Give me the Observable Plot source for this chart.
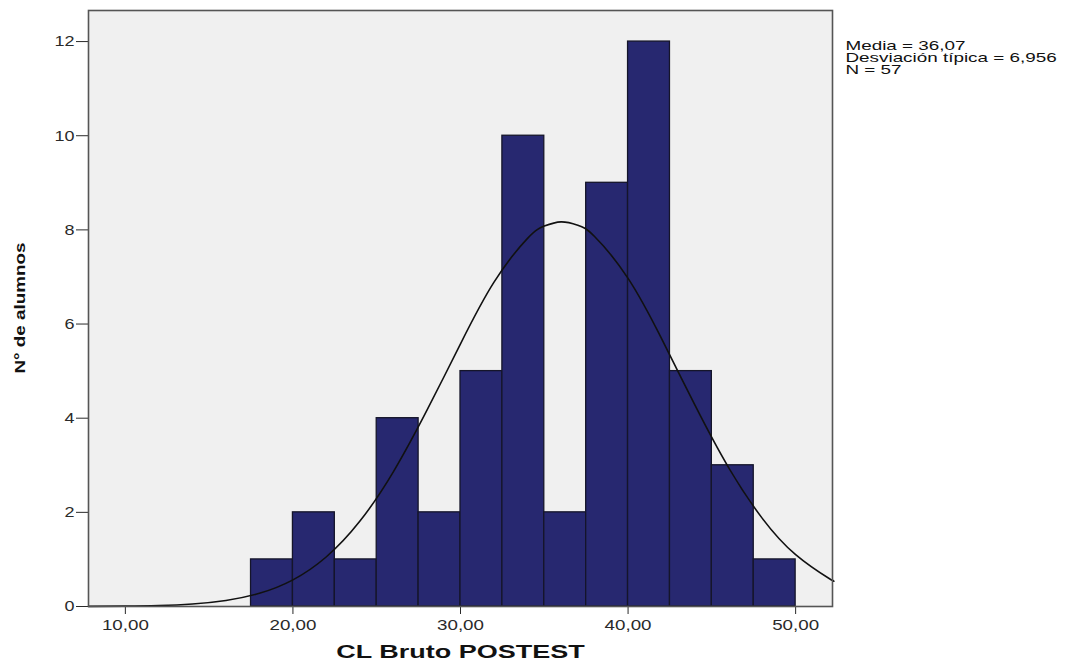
<!DOCTYPE html>
<html>
<head>
<meta charset="utf-8">
<script src="https://cdn.jsdelivr.net/npm/d3@7"></script>
<script src="https://cdn.jsdelivr.net/npm/@observablehq/plot@0.6"></script>
<style>
  html, body { margin: 0; padding: 0; background: #ffffff; }
  #chart svg { display: block; }
</style>
</head>
<body>
<div id="chart"></div>
<script>
// Histogram bins (CL Bruto POSTEST), bin width 2.5
const binStart = [17.5, 20, 22.5, 25, 27.5, 30, 32.5, 35, 37.5, 40, 42.5, 45, 47.5];
const binEnd   = [20, 22.5, 25, 27.5, 30, 32.5, 35, 37.5, 40, 42.5, 45, 47.5, 50];
const counts   = [1, 2, 1, 4, 2, 5, 10, 2, 9, 12, 5, 3, 1];

// Normal curve
const curveX = [7.8, 10, 12, 14, 16, 18, 20, 22, 24, 26, 28, 30, 32, 34, 35, 36, 37, 38, 40, 42, 44, 46, 48, 50, 52, 52.2];
const curveY = [0.002, 0.007, 0.02, 0.053, 0.128, 0.28, 0.566, 1.057, 1.814, 2.866, 4.17, 5.58, 6.89, 7.82, 8.08, 8.17, 8.10, 7.86, 6.97, 5.69, 4.27, 2.95, 1.877, 1.101, 0.594, 0.56];

const xTicks = [10, 20, 30, 40, 50];
const yTicks = [0, 2, 4, 6, 8, 10, 12];

const statsLines = ["Media = 36,07", "Desviación típica = 6,956", "N = 57"];
const xTitle = "CL Bruto POSTEST";
const yTitle = "N° de alumnos";

const bars = binStart.map((s, i) => ({x1: s, x2: binEnd[i], y: counts[i]}));
const curve = curveX.map((x, i) => ({x, y: curveY[i]}));

const fmt = d => d.toFixed(2).replace(".", ",");

const statsText = (i, dy) => Plot.text(statsLines, {
  frameAnchor: "top-right", dx: 13, dy, textAnchor: "start", lineAnchor: "top",
  fontSize: 13, fill: "#111", filter: (d, j) => j === i
});

const chart = Plot.plot({
  width: 1068,
  height: 671,
  marginLeft: 88,
  marginRight: 236,
  marginTop: 10,
  marginBottom: 65,
  style: {fontFamily: "'Liberation Sans', Arial, sans-serif", fontSize: "15px", color: "#2a2a2a", background: "#ffffff"},
  x: {domain: [7.8, 52.2], ticks: xTicks, tickFormat: fmt, tickSize: 8, tickPadding: 5, label: null},
  y: {domain: [0, 12.66], ticks: yTicks, tickFormat: d => String(d), tickSize: 12, tickPadding: 2, label: null},
  marks: [
    Plot.frame({fill: "#f0f0f0", stroke: null}),
    Plot.rectY(bars, {x1: "x1", x2: "x2", y: "y", fill: "#272870", stroke: "#15152a", strokeWidth: 1.3}),
    Plot.line(curve, {x: "x", y: "y", stroke: "#111", strokeWidth: 1.6, curve: "natural"}),
    Plot.frame({stroke: "#555", strokeWidth: 1.6}),
    Plot.text([xTitle], {frameAnchor: "bottom", dy: 51, fontSize: 18, fontWeight: "bold", fill: "#111"}),
    Plot.text([yTitle], {frameAnchor: "left", dx: -68, dy: 65, rotate: -90, textAnchor: "start", fontSize: 15, fontWeight: "bold", fill: "#111"}),
    statsText(0, 30),
    statsText(1, 42),
    statsText(2, 54)
  ]
});

document.getElementById("chart").append(chart);

function stretchEl(e, f, fixed) {
  const L = e.getComputedTextLength();
  e.setAttribute("textLength", fixed != null ? fixed : L * f);
  e.setAttribute("lengthAdjust", "spacingAndGlyphs");
}
chart.querySelectorAll('[aria-label="x-axis tick label"] text').forEach(t => stretchEl(t, 1.25));
chart.querySelectorAll('[aria-label="y-axis tick label"] text').forEach(t => stretchEl(t, 1.2));
chart.querySelectorAll("text").forEach(t => {
  const s = t.textContent;
  if (s === xTitle) stretchEl(t, 1.5);
  else if (s === yTitle) stretchEl(t, 1, 131);
  else if (statsLines.includes(s)) stretchEl(t, 1.45);
});
</script>
</body>
</html>
